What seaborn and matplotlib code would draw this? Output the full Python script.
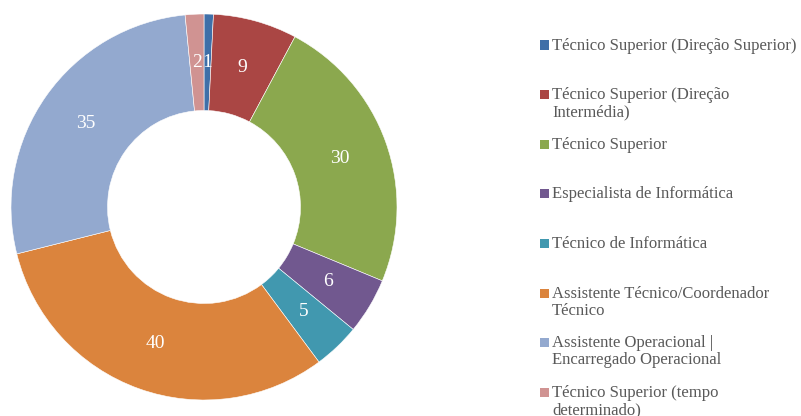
import matplotlib
matplotlib.use("Agg")
import matplotlib.pyplot as plt
import seaborn as sns

# data
categories = [
    "Técnico Superior (Direção Superior)",
    "Técnico Superior (Direção\nIntermédia)",
    "Técnico Superior",
    "Especialista de Informática",
    "Técnico de Informática",
    "Assistente Técnico/Coordenador\nTécnico",
    "Assistente Operacional |\nEncarregado Operacional",
    "Técnico Superior (tempo\ndeterminado)",
]
values = [1, 9, 30, 6, 5, 40, 35, 2]
colors = ["#3F6FA8", "#AA4644", "#8BA84E", "#71588F",
          "#4198AF", "#DB843D", "#93A9CF", "#D09392"]

sns.set_theme(style="white")
plt.rcParams['font.family'] = ['Liberation Serif', 'DejaVu Serif']

fig = plt.figure(figsize=(8.01, 4.16), dpi=100)
ax = fig.add_axes([11 / 801, 16 / 416, 386 / 801, 386 / 416])

wedges, texts = ax.pie(
    values, colors=sns.color_palette(colors), startangle=90, counterclock=False,
    labels=[str(v) for v in values], labeldistance=0.75,
    wedgeprops=dict(width=0.5, edgecolor="white", linewidth=0.4),
    textprops=dict(color="white", fontsize=14, ha="center", va="center"),
)
ax.set_aspect("equal")
ax.set_xlim(-1, 1)
ax.set_ylim(-1, 1)

# legend drawn by hand so the rows keep a fixed pitch
y0 = 416 - 45
pitch = 49.6
for i, (lab, col) in enumerate(zip(categories, colors)):
    y = (y0 - i * pitch) / 416
    fig.patches.append(plt.Rectangle((540 / 801, y - 4.5 / 416), 9 / 801, 9 / 416,
                                     transform=fig.transFigure, facecolor=col,
                                     edgecolor="none"))
    fig.text(552 / 801, y + 7.5 / 416, lab, color="#595959", fontsize=12,
             va="top", ha="left", linespacing=1.1)

fig.savefig("out.png", dpi=100)
